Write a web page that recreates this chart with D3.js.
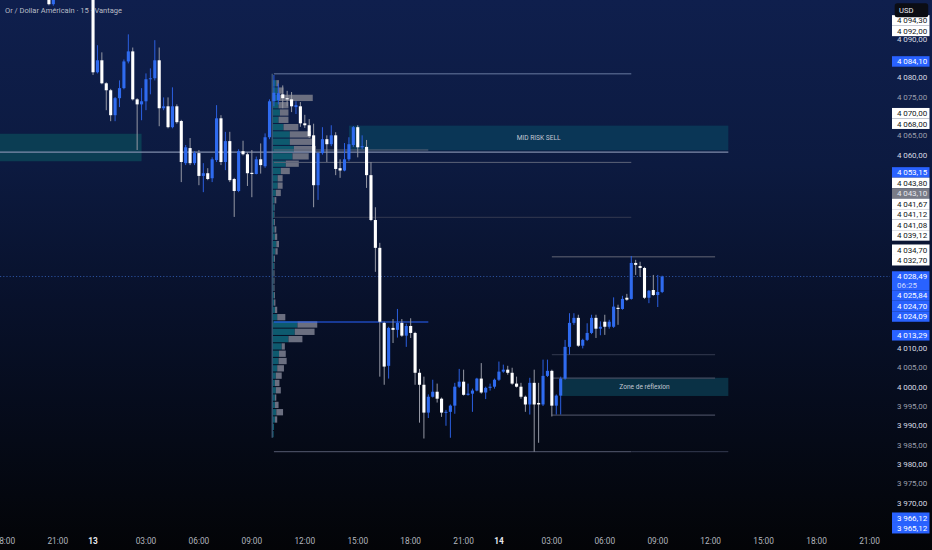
<!DOCTYPE html>
<html><head><meta charset="utf-8">
<script src="https://cdn.jsdelivr.net/npm/d3@7"></script>
<style>html,body{margin:0;padding:0;background:#05070d;overflow:hidden}svg{display:block}</style>
</head><body><svg id="c" width="932" height="550"></svg>
<script>
// ---------------- DATA ----------------
const title = "Or / Dollar Américain · 15 · Vantage";
const firstCandleTime = "12 20:30";
// [open, high, low, close] — 15 min candles
const candles = [
[4103.0,4105.5,4098.6,4098.9],[4098.9,4103.5,4098.5,4102.0],
[4102.0,4106.0,4101.2,4104.8],[4104.8,4107.5,4103.6,4106.9],[4106.9,4109.0,4105.2,4105.8],[4105.8,4108.2,4104.1,4107.6],
[4107.6,4110.4,4106.5,4109.3],[4109.3,4111.0,4107.2,4108.1],[4108.1,4109.5,4105.9,4106.4],[4106.4,4108.8,4104.9,4107.5],
[4107.5,4108.0,4080.6,4081.3],[4081.3,4088.3,4081.0,4084.4],[4084.4,4086.45,4078.2,4078.45],[4078.45,4078.7,4071.5,4076.65],
[4076.65,4077.0,4068.65,4070.2],[4070.2,4074.9,4068.65,4074.6],[4074.6,4079.2,4072.3,4077.2],[4077.2,4084.6,4076.9,4084.1],
[4084.1,4091.1,4083.6,4086.7],[4086.7,4087.7,4074.0,4074.3],[4074.3,4074.6,4061.2,4073.0],[4073.0,4077.2,4068.9,4073.8],
[4073.8,4081.0,4071.5,4079.5],[4079.5,4082.3,4075.6,4079.75],[4079.75,4089.6,4079.2,4084.4],[4084.4,4087.7,4067.35,4072.0],
[4072.0,4074.8,4071.5,4072.5],[4072.5,4074.8,4066.8,4067.1],[4067.1,4077.4,4066.8,4072.5],[4072.5,4073.0,4068.0,4068.4],
[4068.7,4069.0,4052.9,4058.1],[4057.8,4062.5,4057.3,4061.9],[4061.7,4064.3,4057.3,4057.8],[4057.8,4060.9,4057.3,4060.4],
[4060.4,4061.2,4052.1,4054.5],[4054.5,4057.8,4050.3,4055.2],[4055.2,4056.5,4053.4,4053.7],[4053.9,4059.3,4052.9,4058.8],
[4058.6,4072.8,4058.1,4069.4],[4069.4,4070.2,4057.3,4058.1],[4058.1,4065.9,4056.0,4063.5],[4063.5,4065.9,4052.9,4053.4],
[4053.7,4054.0,4043.9,4050.6],[4050.6,4061.4,4050.3,4060.9],[4060.9,4063.6,4059.8,4060.1],[4060.1,4060.6,4051.9,4055.2],
[4055.3,4061.2,4049.0,4055.0],[4055.0,4059.5,4054.9,4058.8],[4058.8,4062.9,4055.1,4057.3],[4057.0,4065.5,4056.6,4064.5],
[4064.5,4074.3,4064.0,4073.8],[4073.8,4080.6,4072.5,4076.0],[4074.1,4078.4,4073.0,4075.9],[4075.6,4077.9,4072.0,4074.6],
[4074.6,4076.5,4072.5,4074.3],[4074.3,4076.2,4071.0,4072.5],[4072.3,4073.8,4070.5,4072.8],[4072.5,4073.6,4067.2,4068.1],
[4068.1,4070.3,4066.9,4067.6],[4067.6,4069.2,4064.3,4064.8],[4065.0,4068.0,4046.4,4052.1],[4052.1,4060.6,4048.3,4060.4],
[4060.4,4067.1,4060.0,4064.0],[4064.0,4065.0,4058.1,4062.7],[4062.7,4067.6,4062.2,4065.0],[4065.0,4065.8,4054.7,4056.3],
[4056.5,4058.8,4054.0,4055.9],[4055.9,4063.0,4055.7,4058.8],[4058.8,4064.5,4058.3,4062.7],[4062.5,4067.4,4062.0,4067.1],
[4067.1,4067.6,4059.3,4061.9],[4061.9,4065.0,4061.4,4062.2],[4062.0,4063.8,4051.4,4054.7],[4054.7,4058.1,4042.8,4043.1],
[4043.1,4046.4,4029.7,4035.9],[4035.9,4037.2,4002.6,4016.8],[4016.5,4016.8,4000.5,4005.2],[4005.4,4015.5,4002.1,4015.2],
[4015.2,4017.5,4011.3,4014.7],[4014.7,4020.1,4012.7,4016.5],[4016.5,4017.5,4012.9,4013.2],[4013.2,4016.3,4010.3,4015.7],
[4015.7,4017.7,4012.6,4013.9],[4013.9,4014.2,4000.5,4003.6],[4003.6,4004.6,3990.7,4000.5],[4000.5,4002.6,3986.6,3993.3],
[3993.3,3998.0,3991.9,3997.4],[3997.4,4001.8,3997.2,3998.7],[3998.7,4000.8,3995.9,3996.9],[3996.9,3997.2,3992.2,3993.3],
[3993.3,3994.0,3989.9,3993.5],[3993.5,3995.4,3986.8,3995.1],[3995.1,4001.0,3993.0,4000.0],[4000.0,4004.6,3999.7,4001.3],
[4001.3,4004.4,3997.7,3997.9],[3997.9,4000.8,3997.7,3998.2],[3998.2,3999.5,3993.5,3999.0],[3999.0,4002.3,3998.8,4002.1],
[4002.1,4006.1,3998.2,3998.5],[3998.5,4000.0,3996.8,3999.7],[3999.7,4000.8,3999.0,4000.0],[4000.0,4002.1,3999.5,4001.8],
[4001.8,4006.5,4001.5,4003.9],[4003.9,4005.7,4003.6,4004.4],[4004.4,4005.4,4003.1,4003.6],[4003.6,4004.9,4000.5,4000.8],
[4000.8,4002.6,3999.8,4000.0],[4000.0,4001.0,3996.9,3997.4],[3997.4,3997.7,3993.5,3995.4],[3995.4,4002.3,3992.8,4001.0],
[4001.0,4004.4,3983.2,3995.4],[3995.8,4001.0,3985.5,3995.4],[3995.4,4007.0,3995.0,4002.8],[4002.8,4007.0,4002.5,4004.1],
[4004.1,4004.4,3992.3,3995.1],[3995.1,3998.0,3992.8,3997.7],[3997.7,4002.6,3992.8,4002.1],[4002.1,4012.1,4001.8,4010.3],
[4010.3,4019.0,4008.3,4016.5],[4016.5,4019.0,4016.0,4017.8],[4017.8,4018.6,4010.3,4010.6],[4010.6,4012.4,4009.9,4012.1],
[4012.1,4016.4,4011.8,4013.9],[4013.9,4018.6,4013.6,4017.8],[4017.8,4018.6,4012.6,4015.0],[4015.0,4016.9,4013.3,4015.5],
[4016.8,4018.6,4013.4,4015.5],[4015.5,4017.3,4015.0,4016.8],[4015.5,4023.1,4015.2,4020.7],[4020.4,4021.2,4016.0,4020.1],
[4020.1,4023.5,4019.9,4022.7],[4023.0,4024.0,4022.2,4022.5],[4022.7,4033.8,4022.5,4032.0],[4032.0,4032.8,4028.9,4031.5],
[4031.2,4032.3,4028.4,4030.7],[4030.7,4031.0,4022.7,4023.0],[4023.0,4025.0,4021.6,4024.8],[4025.0,4028.9,4023.5,4023.7],
[4023.7,4028.9,4020.6,4024.5],[4024.5,4028.7,4024.2,4028.49]
];
const lastPrice = 4028.49;
const countdown = "06:25";

const priceTicks = d3.range(3965, 4096, 5);
const timeTicks = ["12 18:00","12 21:00","13 00:00","13 03:00","13 06:00","13 09:00","13 12:00","13 15:00","13 18:00",
  "13 21:00","14 00:00","14 03:00","14 06:00","14 09:00","14 12:00","14 15:00","14 18:00","14 21:00"];

// visible-range volume profile
const profileFrom = "13 10:15";
const profileTop = 4079.4, profileStep = 1.89;
const profileUp   = [8,11,13,13,16,13,24,38,38,47,44,29,18,11,11,7,4,4,3,3,4,5,8,6,3,3,2,2,2,3,3,5,10,55,49,35,20,14,13,10,7,5,7,5,5,8,5,3,2];
const profileDown = [6,13,76,22,19,22,33,47,49,49,36,29,20,11,11,11,4,1,1,2,4,5,6,5,2,1,2,2,2,2,3,5,18,44,44,31,7,15,18,15,13,10,11,3,8,15,5,0,0];
const profileHigh = 4080.92;

// drawn zones
const zoneNames  = ["left","sell","refl"];
const zoneFrom   = ["12 17:30","13 14:30","14 03:30"];
const zoneTo     = ["13 02:45","14 13:00","14 13:00"];
const zoneTop    = [4065.4,4067.5,4002.3];
const zoneBottom = [4058.3,4061.1,3997.6];
const zoneText   = ["","MID RISK SELL","Zone de réflexion"];

// drawn horizontal segments [price, from, to, kind]
const levels = [
  [4060.63,"12 17:30","14 13:00","mid"],
  [4061.2,"13 10:15","13 19:00","va"],
  [4058.0,"13 10:15","14 07:30","va"],
  [4043.8,"13 10:15","14 07:30","dim"],
  [4016.73,"13 10:15","13 19:00","poc"],
  [4080.92,"13 10:15","14 07:30","top"],
  [4033.6,"14 03:00","14 12:15","seg"],
  [4008.27,"14 03:00","14 12:15","dim"],
  [4002.2,"14 03:00","14 12:15","seg"],
  [3992.63,"14 03:00","14 12:15","seg"],
  [3983.2,"13 10:15","14 07:30","seg"],
  [3983.2,"14 07:30","14 13:00","dim"]
];

// right-axis price labels
const labelPrices = [4094.30,4092.00,4084.10,4070.00,4068.00,4053.15,4043.80,4043.10,4041.67,4041.12,4041.08,4039.12,
  4034.70,4032.70,4028.49,4025.84,4024.70,4024.09,4013.29,3966.12,3965.12];
const labelKinds  = ["w","w","b","w","w","b","w","g","w","w","w","w","w","w","last","b","b","b","b","b","b"];
const labelFixed  = [0,1,1,0,1,0,0,0,0,0,0,1,0,1,1,0,0,0,1,1,0];

// ---------------- LAYOUT / STYLE ----------------
const W = 932, H = 550, plotW = 890, plotH = 532;
const svg = d3.select("#c");
const defs = svg.append("defs");
const grad = defs.append("linearGradient").attr("id","bg").attr("x1",0).attr("y1",0).attr("x2",0).attr("y2",1);
[[0,"#0f1f4d"],[0.3,"#0c1a40"],[0.55,"#08112b"],[0.8,"#050a17"],[1,"#030407"]]
  .forEach(([o,c]) => grad.append("stop").attr("offset",o).attr("stop-color",c));
svg.append("rect").attr("width",W).attr("height",H).attr("fill","url(#bg)");
defs.append("clipPath").attr("id","plot").append("rect").attr("x",0).attr("y",0).attr("width",plotW).attr("height",plotH);

const FONT = "Roboto, 'Noto Sans', 'DejaVu Sans', sans-serif";
const barOf = s => { const [d,hm] = s.split(" "); const [h,m] = hm.split(":").map(Number); return (+d-12)*92 + h*4 + m/15 - 84; };
const x = d3.scaleLinear().domain([-12,184]).range([4.8,869.5]);
const y = d3.scaleLinear().domain([4000,4080]).range([386.7,77.3]);
const step = x(1) - x(0);
const firstBar = barOf(firstCandleTime);

const plot = svg.append("g").attr("clip-path","url(#plot)");

// zones
const zoneFill = {left:"#0b3d53", sell:"#0a3656", refl:"#0a3145"};
const zones = zoneNames.map((n,i)=>({n, x0:x(barOf(zoneFrom[i])), x1:x(barOf(zoneTo[i])), t:zoneTop[i], b:zoneBottom[i], text:zoneText[i]}));
plot.append("g").selectAll("rect").data(zones).join("rect")
  .attr("x",d=>d.x0).attr("width",d=>d.x1-d.x0)
  .attr("y",d=>y(d.t)).attr("height",d=>y(d.b)-y(d.t))
  .attr("fill",d=>zoneFill[d.n]);

// volume profile
const vx = d3.scaleLinear().domain([0,100]).range([0,45]);
const px0 = x(barOf(profileFrom)) - step/2;
const rows = profileUp.map((u,i)=>({u, d:profileDown[i], p0:profileTop - i*profileStep, p1:profileTop-(i+1)*profileStep}));
const pg = plot.append("g");
pg.selectAll("rect.up").data(rows).join("rect").attr("class","up")
  .attr("x",px0+1).attr("y",d=>y(d.p0)+0.5).attr("height",d=>y(d.p1)-y(d.p0)-1)
  .attr("width",d=>vx(d.u)).attr("fill","#0e5a6f");
pg.selectAll("rect.dn").data(rows).join("rect").attr("class","dn")
  .attr("x",d=>px0+1+vx(d.u)).attr("y",d=>y(d.p0)+0.5).attr("height",d=>y(d.p1)-y(d.p0)-1)
  .attr("width",d=>vx(d.d)).attr("fill","#6b6f80");
pg.append("line").attr("x1",px0+0.5).attr("x2",px0+0.5)
  .attr("y1",y(profileHigh)).attr("y2",y(profileTop - profileUp.length*profileStep))
  .attr("stroke","#45607e").attr("stroke-width",1.2);

// level lines
const lvlStyle = {
  mid:{c:"#7f8cab",w:1.3}, va:{c:"#5d6478",w:1}, dim:{c:"#343a50",w:1}, poc:{c:"#2962ff",w:1.2},
  top:{c:"#4a5b82",w:1.4}, seg:{c:"#454a5e",w:1.3}
};
plot.append("g").selectAll("line").data(levels).join("line")
  .attr("x1",d=>x(barOf(d[1]))).attr("x2",d=>x(barOf(d[2])))
  .attr("y1",d=>y(d[0])).attr("y2",d=>y(d[0]))
  .attr("stroke",d=>lvlStyle[d[3]].c).attr("stroke-width",d=>lvlStyle[d[3]].w);

// last price dotted line
plot.append("line").attr("x1",0).attr("x2",plotW).attr("y1",y(lastPrice)).attr("y2",y(lastPrice))
  .attr("stroke","#2a4f9a").attr("stroke-width",1).attr("stroke-dasharray","1.2,2");

// zone texts
plot.append("g").selectAll("text").data(zones.filter(z=>z.text)).join("text")
  .attr("x",d=>(d.x0+d.x1)/2).attr("y",d=>(y(d.t)+y(d.b))/2+2.3)
  .attr("text-anchor","middle").attr("font-family",FONT).attr("font-size",6.6)
  .attr("fill","#c4c8d4").text(d=>d.text);

// candles
const cd = candles.map((c,i)=>({b:firstBar+i, o:c[0], h:c[1], l:c[2], c:c[3], up:c[3]>=c[0]}));
const bw = 3.1;
const cg = plot.append("g");
cg.selectAll("line").data(cd).join("line")
  .attr("x1",d=>x(d.b)).attr("x2",d=>x(d.b)).attr("y1",d=>y(d.h)).attr("y2",d=>y(d.l))
  .attr("stroke",d=>d.up?"#2b5fe0":"#9598a4").attr("stroke-width",1);
cg.selectAll("rect").data(cd).join("rect")
  .attr("x",d=>x(d.b)-bw/2).attr("width",bw)
  .attr("y",d=>y(Math.max(d.o,d.c))).attr("height",d=>Math.max(1,Math.abs(y(d.o)-y(d.c))))
  .attr("fill",d=>d.up?"#2f6bef":"#ffffff");

// title
svg.append("text").attr("x",5).attr("y",12.8).attr("font-family",FONT).attr("font-size",7.5)
  .attr("fill","#b9bcc6").text(title);

// price labels with overlap layout
const loc = d3.formatLocale({decimal:",", thousands:"\u2009", grouping:[3], currency:["",""]});
const fmt = loc.format(",.2f");
const LH = 10.5;
const labs = labelPrices.map((p,i)=>({p, k:labelKinds[i], fixed:!!labelFixed[i], y:y(p)}));
const below = l => l.k==="last" ? LH/2+8.5 : LH/2;
for (let i=1;i<labs.length;i++){
  const pv=labs[i-1], cu=labs[i];
  if (!cu.fixed && (pv.fixed||pv.down)){
    const m = pv.y + below(pv) + LH/2;
    if (cu.y < m){ cu.y = m; cu.down = true; }
  }
}
for (let i=labs.length-2;i>=0;i--){
  const cu=labs[i], nx=labs[i+1];
  if (!cu.fixed && !cu.down){
    const m = nx.y - LH/2 - below(cu);
    if (cu.y > m) cu.y = m;
  }
}

// price axis ticks (those mostly hidden under a label box are skipped)
const covered = v => labs.some(l => y(v) > l.y-LH/2-1.5 && y(v) < l.y+below(l)+1.5) || y(v) < 19;
svg.append("g").selectAll("text").data(priceTicks.filter(v=>!covered(v))).join("text")
  .attr("x",897).attr("y",d=>y(d)+2.9).attr("font-family",FONT).attr("font-size",8)
  .attr("fill",d=>d%10===0?"#d6d9e1":"#9a9eab").text(d=>fmt(d));

const labFill = {w:"#ffffff", g:"#787b86", b:"#2962ff", last:"#2962ff"};
const labText = {w:"#131722", g:"#e6e8ee", b:"#ffffff", last:"#ffffff"};
const lg = svg.append("g");
const lgi = lg.selectAll("g").data(labs).join("g");
lgi.append("rect").attr("x",892).attr("width",37.5)
  .attr("y",d=>d.y-LH/2).attr("height",d=>LH/2+below(d)).attr("fill",d=>labFill[d.k]);
lgi.append("text").attr("x",897).attr("y",d=>d.y+2.9).attr("font-family",FONT).attr("font-size",8)
  .attr("fill",d=>labText[d.k]).text(d=>fmt(d.p));
lgi.filter(d=>d.k==="last").append("text").attr("x",897).attr("y",d=>d.y+11.6)
  .attr("font-family",FONT).attr("font-size",8).attr("fill","#d0dbff").text(countdown);

// currency box
svg.append("rect").attr("x",894.7).attr("y",3.3).attr("width",33.5).attr("height",14).attr("rx",2.5).attr("fill","#0b0d14");
svg.append("text").attr("x",899).attr("y",13).attr("font-family",FONT).attr("font-size",7.6).attr("fill","#e8eaf0").text("USD");

// time axis
const tt = timeTicks.map(s=>{ const hm=s.split(" ")[1]; const day = hm==="00:00"; return {b:barOf(s), t: day ? s.split(" ")[0] : hm, day}; });
svg.append("g").selectAll("text").data(tt).join("text")
  .attr("x",d=>x(d.b)).attr("y",544.2).attr("text-anchor","middle").attr("font-family",FONT)
  .attr("font-size",8.3).attr("font-weight",d=>d.day?"bold":"normal")
  .attr("fill",d=>d.day?"#e6e8ee":"#b2b5be").text(d=>d.t);
</script></body></html>
